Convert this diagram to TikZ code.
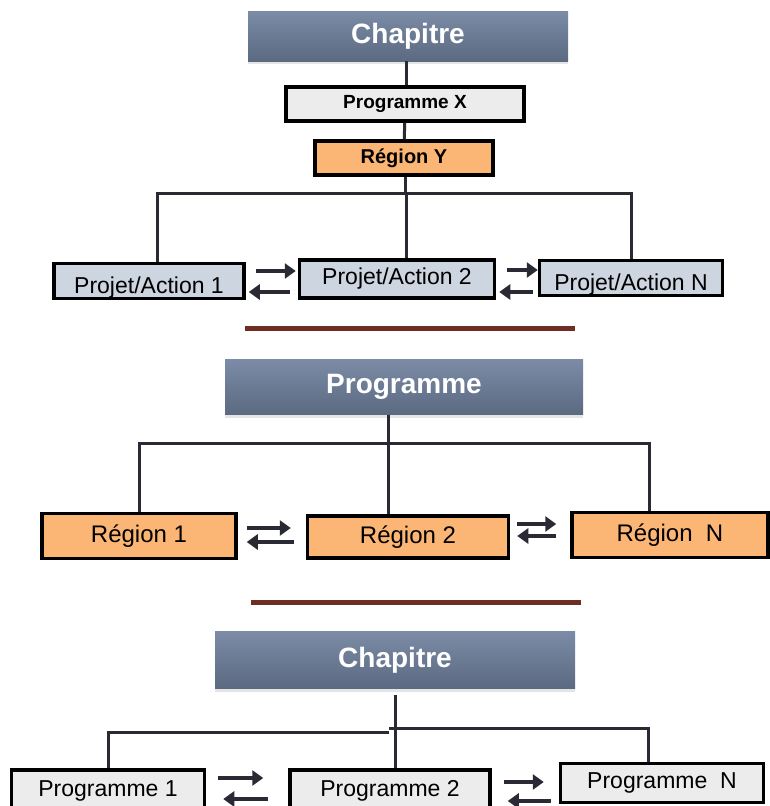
\documentclass[tikz,border=0pt]{standalone}
\usepackage{fontspec}
\setmainfont{Liberation Sans}
\usetikzlibrary{arrows.meta,shadows}

\definecolor{headtop}{HTML}{7C8CA6}
\definecolor{headbot}{HTML}{5B6981}
\definecolor{lineclr}{HTML}{2A2A34}
\definecolor{boxblue}{HTML}{CDD5E0}
\definecolor{boxorange}{HTML}{FBB574}
\definecolor{boxgray}{HTML}{ECECEC}
\definecolor{sepbrown}{HTML}{6E2E24}

\tikzset{
  head/.style={rectangle, top color=headtop, bottom color=headbot, text=white,
    font=\bfseries\fontsize{28}{32}\selectfont,
    drop shadow={shadow xshift=0pt, shadow yshift=-3pt, opacity=.2}},
  box/.style={rectangle, draw=black, line width=3.5pt, inner sep=2pt,
    font=\fontsize{23}{26}\selectfont},
  low/.style={text height=24pt, text depth=0pt},
  conn/.style={draw=lineclr, line width=3pt},
  arr/.style={draw=lineclr, line width=4pt, -{Triangle[length=11pt,width=15pt]}},
  sep/.style={draw=sepbrown, line width=5pt}
}

\begin{document}
\begin{tikzpicture}[x=1pt, y=-1pt]
  \clip (0,0) rectangle (770,806);
  \fill[white] (0,0) rectangle (770,806);

  % Premier schéma
  \node[head, minimum width=320pt, minimum height=50pt] (chapA) at (408,36) {Chapitre};
  \node[box, fill=boxgray, font=\bfseries\fontsize{19}{22}\selectfont,
        minimum width=238pt, minimum height=34pt] (progX) at (405,104) {Programme X};
  \node[box, fill=boxorange, font=\bfseries\fontsize{20}{23}\selectfont,
        minimum width=178pt, minimum height=34pt] (regY) at (404,158) {Région Y};
  \node[box, low, fill=boxblue, minimum width=190pt, minimum height=35pt] (pa1) at (149,281) {Projet/Action 1};
  \node[box, fill=boxblue, minimum width=195pt, minimum height=38pt] (pa2) at (397,279) {Projet/Action 2};
  \node[box, low, fill=boxblue, minimum width=183pt, minimum height=35pt] (paN) at (631,278) {Projet/Action N};

  \coordinate (barA) at (406,193);
  \draw[conn] ([xshift=-2pt]chapA.south) -- ([xshift=-2pt]chapA.south |- progX.north);
  \draw[conn] (progX) -- (regY);
  \draw[conn] ([xshift=1pt]regY.south) -- ([xshift=1pt]regY.south |- barA);
  \draw[conn] ([xshift=8pt]pa1.north) |- (barA) -| (paN.north);
  \draw[conn] (barA) -- (barA |- pa2.north);

  \draw[arr, shorten <=10pt, shorten >=2pt] ([yshift=10pt]pa1.east) -- ([yshift=10pt]pa1.east -| pa2.west);
  \draw[arr, shorten <=8pt, shorten >=3pt] ([yshift=-13pt]pa2.west) -- ([yshift=-13pt]pa2.west -| pa1.east);
  \draw[arr, shorten <=11pt, shorten >=0pt] ([yshift=9pt]pa2.east) -- ([yshift=9pt]pa2.east -| paN.west);
  \draw[arr, shorten <=5pt, shorten >=3pt] ([yshift=-14pt]paN.west) -- ([yshift=-14pt]paN.west -| pa2.east);

  \draw[sep] (245,328) -- (575,328);

  % Deuxième schéma
  \node[head, minimum width=358pt, minimum height=55pt] (progH) at (404,387) {Programme};
  \node[box, fill=boxorange, font=\fontsize{24}{27}\selectfont,
        minimum width=194pt, minimum height=45pt] (reg1) at (139,536) {Région 1};
  \node[box, fill=boxorange, font=\fontsize{24}{27}\selectfont,
        minimum width=201pt, minimum height=42pt] (reg2) at (408,537) {Région 2};
  \node[box, fill=boxorange, font=\fontsize{24}{27}\selectfont,
        minimum width=196pt, minimum height=45pt] (regN) at (670,535) {Région~~N};

  \coordinate (barB) at (388,443);
  \draw[conn] ([xshift=-16pt]progH.south) -- ([xshift=-16pt]progH.south |- reg2.north);
  \draw[conn] (reg1.north) |- (barB) -| ([xshift=-21pt]regN.north);

  \draw[arr, shorten <=9pt, shorten >=15pt] ([yshift=8pt]reg1.east) -- ([yshift=8pt]reg1.east -| reg2.west);
  \draw[arr, shorten <=12pt, shorten >=9pt] ([yshift=-5pt]reg2.west) -- ([yshift=-5pt]reg2.west -| reg1.east);
  \draw[arr, shorten <=7pt, shorten >=14pt] ([yshift=13pt]reg2.east) -- ([yshift=13pt]reg2.east -| regN.west);
  \draw[arr, shorten <=14pt, shorten >=7pt] ([yshift=-1pt]regN.west) -- ([yshift=-1pt]regN.west -| reg2.east);

  \draw[sep] (251,602) -- (581,602);

  % Troisième schéma
  \node[head, minimum width=360pt, minimum height=57pt] (chapB) at (395,660) {Chapitre};
  \node[box, fill=boxgray, minimum width=193pt, minimum height=42pt] (p1) at (108,791) {Programme 1};
  \node[box, fill=boxgray, minimum width=200pt, minimum height=42pt] (p2) at (390,791) {Programme 2};
  \node[box, fill=boxgray, minimum width=203pt, minimum height=39pt] (pN) at (662,783) {Programme~~N};

  \coordinate (barL) at (389,732);
  \coordinate (barR) at (389,728);
  \draw[conn] (chapB.south |- 0,695) -- (chapB.south |- p2.north);
  \draw[conn] (p1.north) |- (barL);
  \draw[conn] (barR) -| ([xshift=-14pt]pN.north);

  \draw[arr, shorten <=12pt, shorten >=25pt] ([yshift=13pt]p1.east) -- ([yshift=13pt]p1.east -| p2.west);
  \draw[arr, shorten <=20pt, shorten >=17pt] ([yshift=-8pt]p2.west) -- ([yshift=-8pt]p2.west -| p1.east);
  \draw[arr, shorten <=12pt, shorten >=15pt] ([yshift=9pt]p2.east) -- ([yshift=9pt]p2.east -| pN.west);
  \draw[arr, shorten <=8pt, shorten >=16pt] ([yshift=-18pt]pN.west) -- ([yshift=-18pt]pN.west -| p2.east);
\end{tikzpicture}
\end{document}
